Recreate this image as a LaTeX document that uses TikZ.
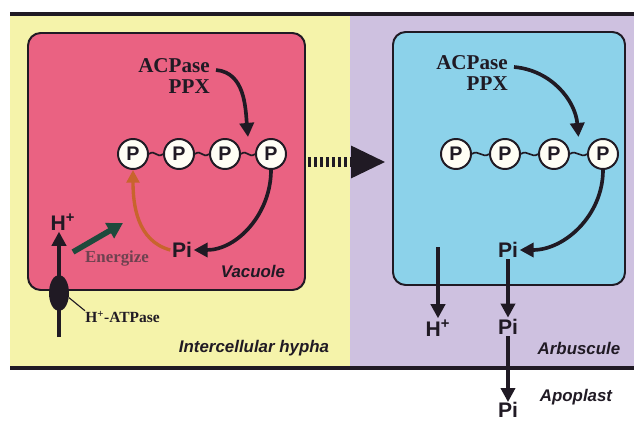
\documentclass[tikz,border=0pt]{standalone}
\usepackage{fontspec}
\setmainfont{Liberation Serif}
\setsansfont{Liberation Sans}
\usetikzlibrary{arrows.meta,calc,shapes.geometric}
\definecolor{hyphaYellow}{RGB}{245,243,170}
\definecolor{arbLilac}{RGB}{206,193,224}
\definecolor{vacPink}{RGB}{234,98,130}
\definecolor{arbBlue}{RGB}{140,210,234}
\definecolor{inkDark}{RGB}{32,26,36}
\definecolor{energyGreen}{RGB}{30,74,60}
\definecolor{energyText}{RGB}{110,66,80}
\definecolor{recycleOrange}{RGB}{200,100,45}
\tikzset{
  compbox/.style={draw=inkDark, line width=1.4pt, rounded corners=9pt, inner sep=0pt},
  pball/.style={circle, draw=inkDark, line width=1.4pt, fill=white!96!yellow, inner sep=0pt,
    minimum size=30*\pxu, font=\sffamily\bfseries\fontsize{14}{14}\selectfont, text=inkDark},
  bond/.style={draw=inkDark, line width=1.2pt},
  enzyme/.style={font=\bfseries\fontsize{15}{15}\selectfont, text=inkDark, align=right, inner sep=0pt},
  ion/.style={font=\sffamily\bfseries\fontsize{15}{15}\selectfont, text=inkDark, inner sep=1pt},
  place/.style={font=\sffamily\bfseries\itshape\fontsize{12}{12}\selectfont, text=inkDark, inner sep=0pt},
  flow/.style={draw=inkDark, line width=2.6pt, -{Triangle[length=10pt,width=10pt]}},
}
\begin{document}
\begin{tikzpicture}
% pixel grid of the reference, y upwards
\def\pxu{0.025cm}
\begin{scope}[x=\pxu, y=\pxu]
  \useasboundingbox (0,0) rectangle (634,423);
  % Background
  \fill[white] (0,0) rectangle (634,423);
  \fill[hyphaYellow] (10,55) rectangle (350,409);
  \fill[arbLilac] (350,55) rectangle (634,409);
  % Membrane lines
  \draw[inkDark, line width=2.2pt] (10,409) -- (634,409);
  \draw[inkDark, line width=2.8pt] (10,55) -- (634,55);
  % Compartments
  \node[compbox, fill=vacPink, minimum width=277*\pxu, minimum height=257*\pxu] (vac) at (166.5,261.5) {};
  \node[compbox, fill=arbBlue, minimum width=232*\pxu, minimum height=253*\pxu] (arb) at (509,264.5) {};
  % Transfer arrow
  \draw[inkDark, line width=10*\pxu, dash pattern=on 3*\pxu off 3*\pxu,
    -{Triangle[length=35*\pxu,width=30*\pxu]}] ([xshift=2*\pxu]vac.east|-0,261) -- ([xshift=-6*\pxu]arb.west|-0,261);
  % Polyphosphate chains
  \foreach \i/\x in {1/133,2/179,3/225,4/271} {
    \node[pball] (pL\i) at (\x,269) {P};
  }
  \foreach \i/\x in {1/456,2/505,3/554,4/603} {
    \node[pball] (pR\i) at (\x,269) {P};
  }
  \foreach \a/\b in {pL1/pL2,pL2/pL3,pL3/pL4,pR1/pR2,pR2/pR3,pR3/pR4} {
    \draw[bond] (\a.east) .. controls +(6,5) and +(-6,-5) .. (\b.west);
  }
  % Enzymes
  \node[enzyme] (acpL) at (174,347) {ACPase\\PPX};
  \node[enzyme] (acpR) at (472,350) {ACPase\\PPX};
  \coordinate (cutL) at ($(pL3)!0.5!(pL4)+(0,17)$);
  \coordinate (cutR) at ($(pR3)!0.5!(pR4)+(0,17)$);
  \draw[flow] ([xshift=6*\pxu,yshift=6*\pxu]acpL.east) to[out=-5,in=95] (cutL);
  \draw[flow] ([xshift=6*\pxu,yshift=6*\pxu]acpR.east) to[out=-5,in=95] (cutR);
  % Vacuole of the hypha
  \node[ion] (piL) at (182,173) {Pi};
  \draw[flow] (pL4.south) to[out=-90,in=0] (piL.east);
  \draw[recycleOrange, line width=2.4pt, -{Triangle[length=9pt,width=9pt]}]
    (piL.west) to[out=165,in=-90] (pL1.south);
  \node[ion] (hL) at (63,201) {H\textsuperscript{+}};
  \coordinate (memB) at (59,86);
  \draw[flow] (memB) -- (memB|-hL.south);
  \node[ellipse, fill=inkDark, minimum width=20*\pxu, minimum height=36*\pxu, inner sep=0pt] (atp) at (59,130) {};
  \node[font=\bfseries\fontsize{11}{11}\selectfont, text=inkDark, inner sep=0pt, anchor=west] (atpl) at (85,106) {H\textsuperscript{+}-ATPase};
  \draw[inkDark, line width=0.8pt] (atp.-25) -- (atpl.north west);
  \coordinate (engS) at (73,171);
  \coordinate (engE) at (123,200);
  \draw[energyGreen, line width=4pt, -{Triangle[length=11pt,width=12pt]}] (engS) -- (engE);
  \node[font=\bfseries\fontsize{12}{12}\selectfont, text=energyText, inner sep=0pt] (energ) at (117,164) {Energize};
  \node[place] (vacl) at (253,152) {Vacuole};
  \node[place] (hyphal) at (254,75) {Intercellular hypha};
  % Arbuscule
  \node[ion] (piR1) at (508,173) {Pi};
  \draw[flow] (pR4.south) to[out=-90,in=0] (piR1.east);
  \node[ion] (piR2) at (508,96) {Pi};
  \node[ion, inner sep=0pt] (piR3) at (508,13) {Pi};
  \draw[flow] (piR1.south) -- (piR2.north);
  \draw[flow] (piR2.south) -- (piR3.north);
  \node[ion] (hR) at (438,95) {H\textsuperscript{+}};
  \coordinate (hRs) at (438,176);
  \draw[flow] (hRs) -- (hR.north);
  \node[place] (arbl) at (579,75) {Arbuscule};
  \node[place] (apol) at (576,26) {Apoplast};
\end{scope}
\end{tikzpicture}
\end{document}
